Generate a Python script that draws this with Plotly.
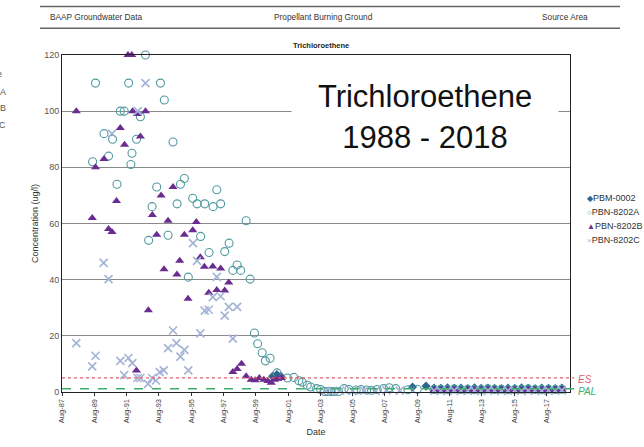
import plotly.graph_objects as go

# ---------------- data ----------------
A_DATES = ["1989-06-23", "1989-08-28", "1990-03-08", "1990-06-19", "1990-09-19", "1990-12-26",
           "1991-03-12", "1991-06-08", "1991-09-16", "1991-11-06", "1991-12-01", "1992-03-12",
           "1992-06-08", "1992-10-01", "1992-12-12", "1993-02-28", "1993-06-12", "1993-09-05",
           "1993-12-01", "1994-02-24", "1994-06-16", "1994-09-16", "1994-12-01", "1995-02-28",
           "1995-05-28", "1995-09-05", "1995-12-12", "1996-03-02", "1996-06-02", "1996-09-09",
           "1996-12-09", "1997-03-02", "1997-05-28", "1997-08-28", "1997-12-05", "1998-02-28",
           "1998-06-05", "1998-08-24", "1998-12-26", "1999-03-26", "1999-07-01", "1999-09-12",
           "1999-12-23", "2000-03-05", "2000-06-19", "2000-11-24", "2001-07-18", "2001-12-09",
           "2002-04-01", "2002-06-16", "2002-10-08", "2002-12-23", "2003-05-07", "2003-08-07",
           "2003-11-07", "2004-01-19", "2004-04-01", "2004-06-13", "2004-09-13", "2005-01-19",
           "2005-05-08", "2005-10-19", "2006-02-07", "2006-06-13", "2006-10-01", "2007-02-07",
           "2007-07-01", "2007-11-07", "2008-04-01", "2009-01-01", "2009-08-01"]
A_VALUES = [82, 110, 92, 84, 90, 74,
            100, 100, 110, 81, 85, 90,
            98, 120, 54, 66, 73, 110,
            104, 55.8, 89, 67, 74, 76,
            40.9, 69, 67, 55.4, 67, 49.7,
            66, 72, 67, 50, 53, 43.3,
            45.2, 43.3, 61, 40.2, 21, 17.2,
            14, 11.1, 12, 6.8, 5.0, 5.2,
            4.0, 3.5, 2.4, 1.8, 1.2, 0.9,
            0.2, 0.2, 0.2, 0.2, 0.2, 1.2,
            0.9, 0.7, 0.9, 0.7, 0.6, 0.9,
            1.2, 1.5, 1.2, 0.8, 1.0]

B_DATES = ["1988-06-20", "1989-06-15", "1989-08-28", "1990-03-08", "1990-06-19", "1990-09-05",
           "1990-12-15", "1991-03-12", "1991-06-15", "1991-09-01", "1991-11-25", "1991-12-15",
           "1992-03-10", "1992-04-05", "1992-06-08", "1992-10-01", "1992-12-05", "1993-03-05",
           "1993-06-12", "1993-09-20", "1993-11-25", "1994-02-24", "1994-06-16", "1994-09-12",
           "1994-11-15", "1995-02-28", "1995-05-22", "1995-09-05", "1995-11-25", "1996-02-24",
           "1996-05-25", "1996-09-01", "1996-12-01", "1997-03-02", "1997-05-28", "1997-08-28",
           "1997-11-28", "1998-02-28", "1998-06-05", "1998-09-12", "1998-12-26", "1999-04-20",
           "1999-07-20", "1999-10-20", "2000-01-30", "2000-05-01", "2000-07-15", "2000-10-01",
           "2000-12-15", "2001-03-01"]
B_VALUES = [100, 62, 80, 83, 58, 57,
            68, 94, 88, 120, 120, 100,
            7.7, 99, 91, 100, 29.1, 63,
            56, 70, 43.7, 61, 73, 41.8,
            46.7, 56, 33.2, 57.6, 60.5, 48,
            44.6, 35.3, 44.7, 36.3, 44, 36.1,
            39, 7.1, 8.2, 10.1, 5.6, 4.4,
            4.2, 5.0, 4.4, 3.9, 3.3, 4.4,
            4.7, 5.0]

C_DATES = ["1988-06-20", "1989-06-15", "1989-08-28", "1990-02-28", "1990-06-19", "1990-09-05",
           "1991-03-12", "1991-06-08", "1991-09-12", "1991-12-09", "1992-04-05", "1992-04-10",
           "1992-06-08", "1992-10-01", "1992-11-28", "1993-03-01", "1993-05-25", "1993-08-20",
           "1993-11-18", "1994-02-24", "1994-06-16", "1994-09-01", "1994-12-01", "1995-02-28",
           "1995-05-28", "1995-09-12", "1995-12-12", "1996-02-24", "1996-06-02", "1996-09-01",
           "1996-12-01", "1997-03-02", "1997-05-28", "1997-08-28", "1997-11-28", "1998-02-28",
           "1998-06-05", "2003-11-25", "2004-04-20", "2004-10-20", "2005-08-01", "2006-04-20",
           "2007-01-01", "2007-09-01", "2008-07-01"]
C_VALUES = [17.4, 9.1, 12.9, 46, 40.2, 92,
            11.1, 6, 12.1, 10.3, 5, 100,
            5, 110, 2.9, 5, 4.1, 7.1,
            7.7, 15.6, 21.9, 17.4, 12.6, 15,
            7.7, 53, 46.7, 20.9, 29, 29.3,
            33.8, 41, 34.1, 27.2, 30.3, 19,
            30.3, 0.4, 0.3, 0.5, 0.4, 0.5,
            0.4, 0.6, 0.5]

P_DATES = ["2000-08-15", "2000-11-20", "2001-02-20", "2009-04-15", "2010-02-15"]
P_VALUES = [5.6, 6.2, 5.6, 1.8, 2.1]

LATE_DATES = ["2010-08-15", "2011-01-15", "2011-06-15", "2011-11-15", "2012-04-15", "2012-09-15",
              "2013-02-15", "2013-07-15", "2013-12-15", "2014-05-15", "2014-10-15", "2015-03-15",
              "2015-08-15", "2016-01-15", "2016-06-15", "2016-11-15", "2017-04-15", "2017-09-15",
              "2018-02-15", "2018-07-15"]
LATE_P = [1.4, 1.3, 1.5, 1.3, 1.4, 1.2, 1.5, 1.3, 1.4, 1.3, 1.2, 1.4, 1.3, 1.5, 1.3, 1.2, 1.4, 1.3, 1.2, 1.4]
LATE_A = [0.9, 1.0, 0.8, 1.1, 0.9, 1.0, 0.8, 0.9, 1.1, 0.9, 1.0, 0.8, 0.9, 1.0, 1.1, 0.9, 0.8, 1.0, 0.9, 1.0]
LATE_B = [0.6, 0.5, 0.7, 0.6, 0.5, 0.6, 0.7, 0.5, 0.6, 0.6, 0.5, 0.7, 0.6, 0.5, 0.6, 0.7, 0.5, 0.6, 0.7, 0.8]
LATE_C = [0.5, 0.4, 0.5, 0.6, 0.4, 0.5, 0.5, 0.4, 0.6, 0.5, 0.4, 0.5, 0.6, 0.4, 0.5, 0.5, 0.4, 0.6, 0.5, 0.6]

ES_LEVEL = 5
PAL_LEVEL = 1.2

X_TICKS = ["1987-08-01", "1989-08-01", "1991-08-01", "1993-08-01", "1995-08-01", "1997-08-01",
           "1999-08-01", "2001-08-01", "2003-08-01", "2005-08-01", "2007-08-01", "2009-08-01",
           "2011-08-01", "2013-08-01", "2015-08-01", "2017-08-01"]
X_TICK_LABELS = ["Aug-87", "Aug-89", "Aug-91", "Aug-93", "Aug-95", "Aug-97", "Aug-99", "Aug-01",
                 "Aug-03", "Aug-05", "Aug-07", "Aug-09", "Aug-11", "Aug-13", "Aug-15", "Aug-17"]
Y_TICKS = [0, 20, 40, 60, 80, 100, 120]

SERIES = ["PBM-0002", "PBN-8202A", "PBN-8202B", "PBN-8202C"]

# ---------------- layout helpers ----------------
W, H = 644, 447
ML, MR, MT, MB = 62, 74, 55, 51
PW = W - ML - MR
PH = H - MT - MB


def px(x):
    return (x - ML) / PW


def py(y):
    return (H - MB - y) / PH


FONT = "Arial, Liberation Sans, sans-serif"
C_P = "#2f6690"
C_A = "#4f9aa0"
C_B = "#6a2c91"
C_C = "#a3b3d6"

fig = go.Figure()
fig.add_trace(go.Scatter(x=P_DATES + LATE_DATES, y=P_VALUES + LATE_P, mode="markers", name=SERIES[0],
                         marker=dict(symbol="diamond", size=7, color=C_P), cliponaxis=False))
fig.add_trace(go.Scatter(x=A_DATES + LATE_DATES, y=A_VALUES + LATE_A, mode="markers", name=SERIES[1],
                         marker=dict(symbol="circle-open", size=8, color=C_A, line=dict(width=1.1)),
                         cliponaxis=False))
fig.add_trace(go.Scatter(x=B_DATES + LATE_DATES, y=B_VALUES + LATE_B, mode="markers", name=SERIES[2],
                         marker=dict(symbol="triangle-up", size=8, color=C_B), cliponaxis=False))
fig.add_trace(go.Scatter(x=C_DATES + LATE_DATES, y=C_VALUES + LATE_C, mode="markers", name=SERIES[3],
                         marker=dict(symbol="x-thin", size=8, line=dict(color=C_C, width=1.6)),
                         cliponaxis=False))

# ES / PAL lines
fig.add_shape(type="line", xref="paper", yref="y", x0=0, x1=px(574), y0=ES_LEVEL, y1=ES_LEVEL,
              line=dict(color="#e0606a", width=1.2, dash="dot"))
fig.add_shape(type="line", xref="paper", yref="y", x0=0, x1=px(574), y0=PAL_LEVEL, y1=PAL_LEVEL,
              line=dict(color="#3dae6b", width=1.5, dash="dash"))

annotations = []
annotations.append(dict(x=px(576), y=ES_LEVEL - 0.4, xref="paper", yref="y", text="<i>ES</i>", showarrow=False,
                        xanchor="left", yanchor="middle", font=dict(size=10, color="#e0606a", family=FONT)))
annotations.append(dict(x=px(576), y=PAL_LEVEL - 0.9, xref="paper", yref="y", text="<i>PAL</i>", showarrow=False,
                        xanchor="left", yanchor="middle", font=dict(size=10, color="#3dae6b", family=FONT)))

# header
for yy in (6, 28):
    fig.add_shape(type="line", xref="paper", yref="paper", x0=px(40), x1=px(620), y0=py(yy), y1=py(yy),
                  line=dict(color="#666666", width=1.5))
annotations.append(dict(x=px(48), y=py(17), xref="paper", yref="paper", text="BAAP Groundwater Data",
                        showarrow=False, xanchor="left", yanchor="middle", font=dict(size=8.3, color="#333", family=FONT)))
annotations.append(dict(x=px(323), y=py(17), xref="paper", yref="paper", text="Propellant Burning Ground",
                        showarrow=False, xanchor="center", yanchor="middle", font=dict(size=8.3, color="#333", family=FONT)))
annotations.append(dict(x=px(590), y=py(17), xref="paper", yref="paper", text="Source Area",
                        showarrow=False, xanchor="right", yanchor="middle", font=dict(size=8.3, color="#333", family=FONT)))
annotations.append(dict(x=px(321), y=py(45), xref="paper", yref="paper", text="<b>Trichloroethene</b>",
                        showarrow=False, xanchor="center", yanchor="middle", font=dict(size=7.5, color="#222", family=FONT)))

# big overlay text
annotations.append(dict(x=px(425), y=py(118), xref="paper", yref="paper",
                        text="Trichloroethene<br>1988 - 2018", showarrow=False, xanchor="center", yanchor="middle",
                        font=dict(size=31, color="#111", family=FONT), bgcolor="white", width=264, height=86))

# cut-off left legend fragments
for txt, yy, xx in (("e", 74, 4), ("A", 92, 8), ("B", 109, 8), ("C", 126, 8)):
    annotations.append(dict(x=px(xx), y=py(yy), xref="paper", yref="paper", text=txt, showarrow=False,
                            xanchor="right", yanchor="middle", font=dict(size=9, color="#555", family=FONT)))

# right legend
legend_items = [(SERIES[0], C_P, "◆"), (SERIES[1], C_A, "○"), (SERIES[2], C_B, "▲"), (SERIES[3], C_C, "×")]
for i, (name, col, glyph) in enumerate(legend_items):
    annotations.append(dict(x=px(585), y=py(200 + 14 * i), xref="paper", yref="paper",
                            text=f'<span style="color:{col};font-size:8px">{glyph}</span>{name}',
                            showarrow=False, xanchor="left", yanchor="middle",
                            font=dict(size=9, color="#333", family=FONT)))

fig.update_layout(
    width=W, height=H,
    margin=dict(l=ML, r=MR, t=MT, b=MB),
    paper_bgcolor="white", plot_bgcolor="white",
    showlegend=False,
    annotations=annotations,
    font=dict(family=FONT),
    xaxis=dict(type="date", range=["1987-08-01", "2019-01-15"], tickvals=X_TICKS, ticktext=X_TICK_LABELS,
               tickangle=-90, ticks="outside", ticklen=3, tickcolor="#333", showgrid=False,
               showline=True, linecolor="#222", linewidth=1, mirror=True, zeroline=False,
               tickfont=dict(size=7.5, color="#444"),
               title=dict(text="Date", font=dict(size=9, color="#333"), standoff=6)),
    yaxis=dict(range=[0, 120], tickvals=Y_TICKS, showgrid=True, gridcolor="#8a8a8a", gridwidth=1,
               showline=True, linecolor="#222", linewidth=1, mirror=True, zeroline=False, ticks="",
               tickfont=dict(size=9, color="#555"),
               title=dict(text="Concentration (ug/l)", font=dict(size=9, color="#333"), standoff=4)),
)

fig.write_html("out.html")
